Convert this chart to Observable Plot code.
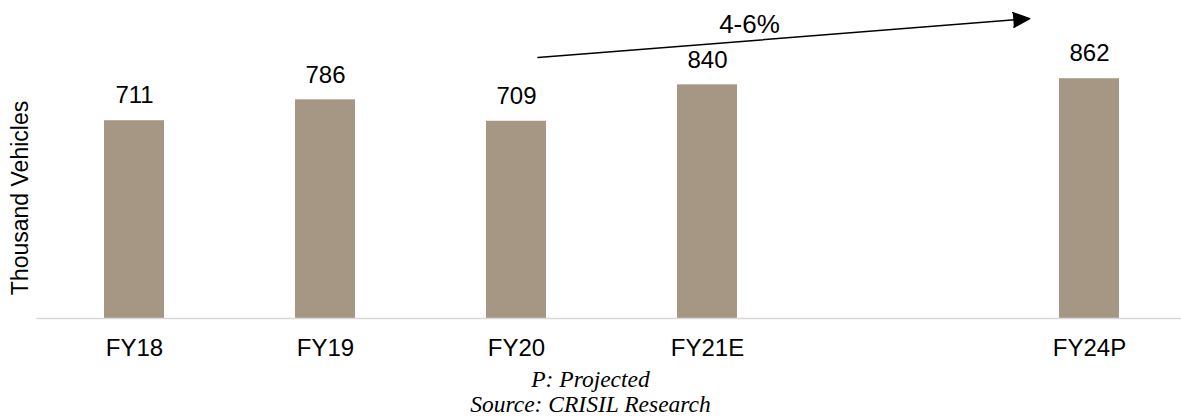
<!DOCTYPE html>
<html>
<head>
<meta charset="utf-8">
<script src="https://cdn.jsdelivr.net/npm/d3@7"></script>
<script src="https://cdn.jsdelivr.net/npm/@observablehq/plot@0.6"></script>
<style>
  html, body { margin: 0; padding: 0; background: #fff; }
  #chart { width: 1181px; }
  .caption {
    width: 1181px; text-align: center;
    font-family: "Liberation Serif", "Times New Roman", serif;
    font-style: italic; font-size: 23.5px; line-height: 25px; color: #000;
  }
</style>
</head>
<body>
<div id="chart"></div>
<div class="caption">P: Projected<br>Source: CRISIL Research</div>
<script>
// Categories (the blank slot stands for the un-shown years FY22–FY23)
const categories = ["FY18", "FY19", "FY20", "FY21E", "", "FY24P"];
const years = ["FY18", "FY19", "FY20", "FY21E", "FY24P"];
const values = [711, 786, 709, 840, 862];
const yLabel = "Thousand Vehicles";
// Growth annotation: arrow from FY20 towards FY24P, in data units
const growthFrom = ["FY20"];
const growthTo = ["FY24P"];
const growthStartValue = [932];
const growthEndValue = [1095];
const growthLabel = ["4-6%"];
const growthLabelAt = ["FY21E"];
const growthLabelValue = [1057];

const data = years.map((y, i) => ({year: y, value: values[i]}));
const arrowData = growthFrom.map((f, i) => ({
  from: f, to: growthTo[i], v1: growthStartValue[i], v2: growthEndValue[i]
}));
const labelData = growthLabel.map((t, i) => ({text: t, at: growthLabelAt[i], v: growthLabelValue[i]}));

const chart = Plot.plot({
  width: 1181,
  height: 367,
  marginLeft: 36,
  marginRight: 0,
  marginTop: 12,
  marginBottom: 49,
  style: {fontFamily: "'Liberation Sans', Arial, sans-serif", fontSize: "24px", color: "#000", background: "#fff"},
  x: {domain: categories, range: [36, 1187], paddingInner: 0.687, paddingOuter: 0.344, tickSize: 0, tickPadding: 20, label: null},
  y: {domain: [0, 1100], axis: null},
  marks: [
    Plot.barY(data, {x: "year", y: "value", fill: "#a69784"}),
    Plot.ruleY([0], {stroke: "#d9d9d9", strokeWidth: 1.5}),
    Plot.text(data, {x: "year", y: "value", text: d => String(d.value), dy: -25, fontSize: 24, fill: "#000"}),
    Plot.arrow(arrowData, {
      x1: "from", x2: "to", y1: "v1", y2: "v2",
      insetStart: 21.5, insetEnd: 60,
      stroke: "#000", fill: "#000", strokeWidth: 1.5,
      headLength: 18, headAngle: 48
    }),
    Plot.text(labelData, {x: "at", y: "v", text: "text", dx: 42, fontSize: 26, fill: "#000"}),
    Plot.text([yLabel], {frameAnchor: "left", textAnchor: "middle", text: d => d, rotate: -90, dx: -16, dy: 32.5, fontSize: 23, fill: "#000"})
  ]
});
document.getElementById("chart").appendChild(chart);
</script>
</body>
</html>
